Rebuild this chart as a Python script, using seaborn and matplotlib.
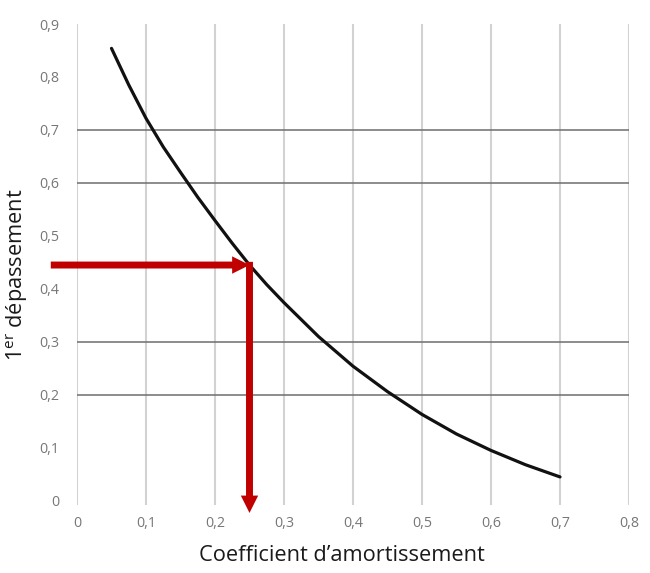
import matplotlib
matplotlib.use("Agg")
import matplotlib.pyplot as plt
import seaborn as sns
import pandas as pd

# ---- data ----
damping = [0.05, 0.075, 0.10, 0.125, 0.15, 0.175, 0.20, 0.225, 0.25, 0.275, 0.30,
           0.35, 0.40, 0.45, 0.50, 0.55, 0.60, 0.65, 0.70]
overshoot = [0.854, 0.785, 0.722, 0.668, 0.620, 0.573, 0.529, 0.486, 0.445, 0.408, 0.374,
             0.310, 0.254, 0.206, 0.163, 0.126, 0.095, 0.068, 0.045]
x_ticks = [0, 0.1, 0.2, 0.3, 0.4, 0.5, 0.6, 0.7, 0.8]
x_tick_labels = ["0", "0,1", "0,2", "0,3", "0,4", "0,5", "0,6", "0,7", "0,8"]
y_ticks = [0, 0.1, 0.2, 0.3, 0.4, 0.5, 0.6, 0.7, 0.8, 0.9]
y_tick_labels = ["0", "0,1", "0,2", "0,3", "0,4", "0,5", "0,6", "0,7", "0,8", "0,9"]
dark_rows = [0.2, 0.3, 0.6, 0.7]
read_x = 0.25
read_y = 0.445
arrow_start_x = -0.038
arrow_end_y = -0.023

sns.set_theme(style="white")
plt.rcParams["font.family"] = ["Open Sans", "DejaVu Sans"]

df = pd.DataFrame({"damping": damping, "overshoot": overshoot})

fig = plt.figure(figsize=(6.5, 5.73), dpi=100)
ax = fig.add_axes([77 / 650, 1 - 505 / 573, (629 - 77) / 650, (505 - 24) / 573])

ax.set_xlim(0, 0.8)
ax.set_ylim(-0.008, 0.9)

for xv in x_ticks:
    ax.axvline(xv, color="#d2d2d2", lw=1.5, zorder=0)
for yv in dark_rows:
    ax.axhline(yv, color="#6e6e6e", lw=1.1, zorder=1)

sns.lineplot(data=df, x="damping", y="overshoot", ax=ax, color="#111111", lw=2.3, zorder=3)

arrow_style = dict(width=5, headwidth=12.5, headlength=12.5, shrink=0,
                   facecolor="#c00000", edgecolor="none")
ax.annotate("", xy=(read_x, read_y), xytext=(arrow_start_x, read_y),
            arrowprops=arrow_style, annotation_clip=False, zorder=4)
ax.annotate("", xy=(read_x, arrow_end_y), xytext=(read_x, read_y + 0.006),
            arrowprops=arrow_style, annotation_clip=False, zorder=4)

ax.set_xticks(x_ticks)
ax.set_xticklabels(x_tick_labels)
ax.set_yticks(y_ticks)
ax.set_yticklabels(y_tick_labels)
ax.tick_params(axis="both", length=0, labelsize=10.3, labelcolor="#777777")
ax.tick_params(axis="y", pad=13)
ax.tick_params(axis="x", pad=8)
for s in ax.spines.values():
    s.set_visible(False)
ax.grid(False)

ax.set_xlabel("Coefficient d\u2019amortissement", fontsize=15.7, color="#1a1a1a")
ax.xaxis.set_label_coords((342 - 77) / 552, -(545 - 505) / 481)
ax.set_ylabel("1$^{\\mathregular{er}}$ dépassement", fontsize=15.7, color="#1a1a1a")
ax.yaxis.set_label_coords(-(77 - 30) / 552, (505 - 275) / 481)

fig.savefig("out.png", dpi=100)
